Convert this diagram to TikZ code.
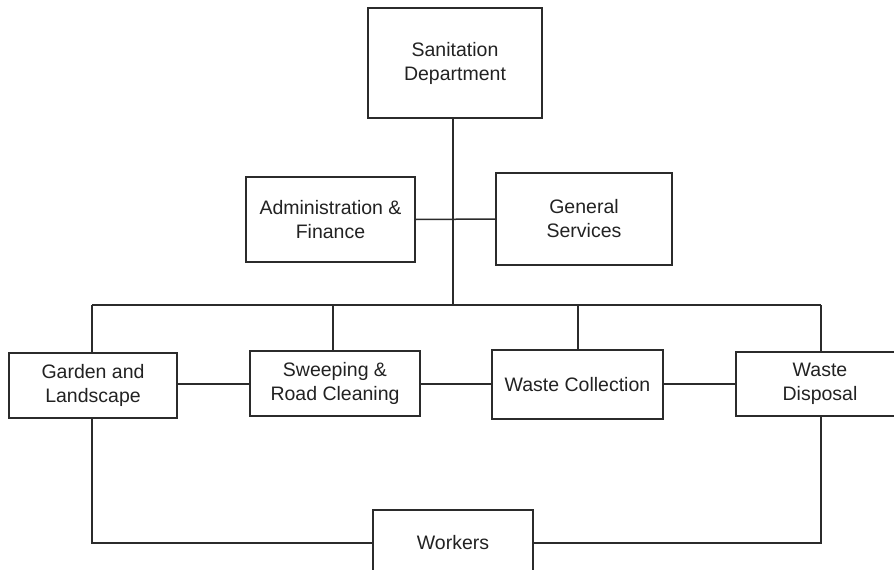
\documentclass[tikz,border=0pt]{standalone}
\usepackage{fontspec}
\setmainfont{Liberation Sans}
\definecolor{ink}{HTML}{2B2B2B}
\definecolor{txt}{HTML}{222222}
\begin{document}
\begin{tikzpicture}[x=1pt,y=-1pt,
  unit/.style={draw=ink, line width=1.5pt, fill=white, inner sep=0pt,
    align=center, text=txt, font=\fontsize{19.5}{24}\selectfont},
  link/.style={draw=ink, line width=1.5pt}]
  \useasboundingbox (0,0) rectangle (894,570);
  \clip (0,0) rectangle (894,570);

  % top level
  \node[unit, minimum width=174pt, minimum height=110pt] (san) at (455,63) {Sanitation\\Department};

  % staff units
  \node[unit, minimum width=169pt, minimum height=85pt] (adm) at (330.5,219.5) {Administration \&\\Finance};
  \node[unit, minimum width=176pt, minimum height=92pt] (gen) at (584,219) {General\\Services};

  % operating units
  \node[unit, minimum width=168pt, minimum height=65pt] (gar) at (93,385.5) {Garden and\\Landscape};
  \node[unit, minimum width=170pt, minimum height=65pt] (swp) at (335,383.5) {Sweeping \&\\Road Cleaning};
  \node[unit, minimum width=171pt, minimum height=69pt] (wcol) at (577.5,384.5) {Waste Collection};
  \node[unit, minimum width=168pt, minimum height=64pt] (wdis) at (820,384) {Waste\\Disposal};

  % field staff
  \node[unit, minimum width=160pt, minimum height=66pt] (wrk) at (453,543) {Workers};

  % routing coordinates
  \coordinate (trunk) at (453,305);
  \coordinate (busL) at (92,305);
  \coordinate (busR) at (821,305);
  \coordinate (dropS) at (333,305);
  \coordinate (dropC) at (578,305);
  \coordinate (row) at (0,384);

  % trunk and staff branch
  \draw[link] (san.south -| trunk) -- (trunk);
  \draw[link] (adm.east) -- (gen.west);

  % distribution bus and drops
  \draw[link] (busL) -- (busR);
  \draw[link] (busL) -- (busL |- gar.north);
  \draw[link] (dropS) -- (dropS |- swp.north);
  \draw[link] (dropC) -- (dropC |- wcol.north);
  \draw[link] (busR) -- (busR |- wdis.north);

  % lateral links between operating units
  \draw[link] (gar.east |- row) -- (swp.west |- row);
  \draw[link] (swp.east |- row) -- (wcol.west |- row);
  \draw[link] (wcol.east |- row) -- (wdis.west |- row);

  % links down to workers
  \draw[link] (busL |- gar.south) -- (busL |- wrk.west) -- (wrk.west);
  \draw[link] (busR |- wdis.south) -- (busR |- wrk.east) -- (wrk.east);
\end{tikzpicture}
\end{document}
